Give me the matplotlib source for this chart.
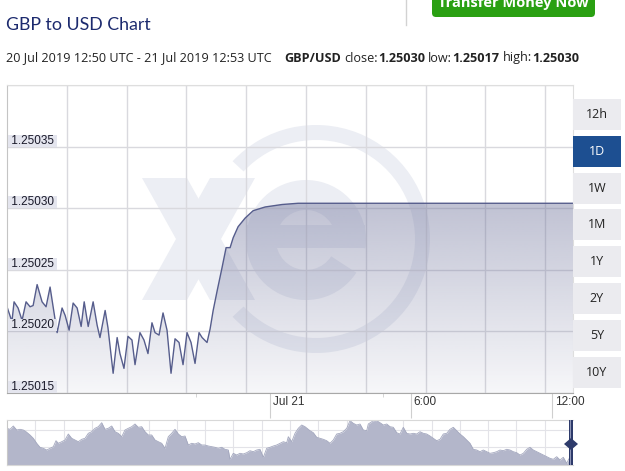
import numpy as np
import matplotlib
matplotlib.use("Agg")
import matplotlib.pyplot as plt
from matplotlib.patches import Rectangle, Wedge, Polygon, FancyBboxPatch
from matplotlib.transforms import Affine2D

# GBP/USD, timmar relativt 21 Jul 00:00 UTC
hours = [-11.17, -10.96, -10.87, -10.70, -10.53, -10.36, -10.19, -10.06, -9.89, -9.68,
         -9.51, -9.34, -9.04, -8.83, -8.70, -8.53, -8.36, -8.19, -8.02, -7.89,
         -7.72, -7.51, -7.34, -7.22, -7.00, -6.88, -6.66, -6.49, -6.37, -6.20,
         -6.03, -5.86, -5.73, -5.52, -5.35, -5.18, -5.01, -4.88, -4.71, -4.54,
         -4.37, -4.20, -4.03, -3.86, -3.69, -3.52, -3.35, -3.18, -3.01, -2.88,
         -2.67, -2.54, -2.41, -2.24, -2.03, -1.86, -1.78, -1.69, -1.56, -1.35,
         -1.05, -0.71, -0.20, 0.52, 1.20, 12.88]
rate = [1.250220, 1.250208, 1.250224, 1.250219, 1.250209, 1.250224, 1.250220, 1.250221, 1.250238, 1.250224,
        1.250220, 1.250236, 1.250199, 1.250219, 1.250213, 1.250201, 1.250223, 1.250219, 1.250204, 1.250224,
        1.250204, 1.250224, 1.250205, 1.250195, 1.250217, 1.250203, 1.250166, 1.250195, 1.250182, 1.250170,
        1.250196, 1.250193, 1.250173, 1.250199, 1.250193, 1.250182, 1.250207, 1.250199, 1.250197, 1.250215,
        1.250201, 1.250166, 1.250194, 1.250191, 1.250173, 1.250199, 1.250191, 1.250174, 1.250199, 1.250195,
        1.250191, 1.250202, 1.250217, 1.250233, 1.250252, 1.250268, 1.250268, 1.250268, 1.250276, 1.250285,
        1.250292, 1.250298, 1.250301, 1.250303, 1.250304, 1.250304]

# navigator (översikt längst ner)
nav_x = [6.7, 10, 13.3, 16.7, 20, 23.3, 26, 30, 33.3, 36.7, 40, 43.3, 46.7, 50, 53.3, 56, 58.3, 61.7,
         65, 68.3, 71.7, 75, 78.3, 81.7, 85, 88.3, 91.7, 95, 98.3, 101.7, 105, 108.3, 111.7, 115,
         118.3, 121.7, 125, 128.3, 131.7, 135, 138.3, 141.7, 145, 148.3, 151.7, 155, 158.3, 161.7,
         165, 168.3, 171.7, 175, 178.3, 181.7, 185, 188.3, 191.7, 195, 198.3, 201.7, 205, 208.3,
         211.7, 215, 218.3, 221.7, 225, 228.3, 230, 233.3, 236.7, 240, 243.3, 246.7, 250, 253.3,
         256.7, 260, 263.3, 266.7, 270, 273.3, 276.7, 280, 283.3, 286.7, 288.3, 291.7, 295, 298.3,
         301.7, 305, 310, 313.3, 316.7, 320, 323.3, 326.7, 330, 333.3, 336.7, 340, 343.3, 346.7,
         350, 353.3, 356.7, 360, 363.3, 366.7, 368.3, 373.3, 376.7, 380, 383.3, 386.7, 390, 393.3,
         396.7, 400, 403.3, 406.7, 410, 413.3, 416.7, 420, 423.3, 426.7, 430, 433.3, 436.7, 440,
         443.3, 446.7, 450, 453.3, 456.7, 460, 463.3, 466.7, 470, 473.3, 476.7, 480, 483.3, 486.7,
         490, 493.3, 496.7, 500, 503.3, 506.7, 510, 513.3, 516.7, 520, 523.3, 526.7, 530, 533.3,
         536.7, 540, 543.3, 546.7, 550, 553.3, 556.7, 560, 563.3, 566.7, 568.3, 569.3]
nav_level = [36.7, 35.7, 39, 35, 35.7, 35, 33.3, 30, 26.7, 21.7, 17.7, 16.7, 15, 16.7, 18.3, 24.3, 21.7, 23.3,
             25, 31, 26.7, 25, 23.3, 25.7, 26.7, 31.7, 33.3, 36.7, 38.3, 42.3, 35.7, 36.7, 39, 33.3,
             31.7, 28.3, 35, 36.7, 38.3, 41, 37.7, 38.3, 33.3, 30, 30, 25, 23.3, 21.7,
             16.7, 28.3, 31.7, 35.7, 31, 28.3, 29, 20, 21.7, 21, 22.3, 20, 20, 19,
             18.3, 17.7, 16.7, 17.7, 15.7, 15, 5.7, 11.7, 10, 11.7, 11, 12.3, 14.3, 13.3,
             15, 15.7, 7.7, 16.7, 17.7, 19, 20, 21.7, 23.3, 22.3, 28.3, 23.3, 31.7, 36.7,
             40, 38.3, 34.3, 32.3, 27.7, 26.7, 25.7, 24.3, 21.7, 25, 31, 31.7, 33.3, 36.7,
             44.3, 41.7, 40, 41, 35, 34.3, 41, 44.3, 44.3, 42.3, 40, 41, 38.3, 37.7,
             32.3, 31, 37.7, 31.7, 31, 31.7, 31, 33.3, 31.7, 31, 29, 26.7, 24.3, 25.7,
             31, 31.7, 35.7, 37.7, 34.3, 31, 28.3, 25, 21.7, 15.7, 15, 13.3, 15, 13.3,
             11.7, 12.3, 13.3, 15, 14.3, 15.7, 15, 13.3, 12.3, 10, 11.7, 15.7, 17.7, 15,
             13.3, 11.7, 10, 8.3, 6.7, 5.7, 8.3, 5, 7.7, 1.7, 5, 6.7]

y_ticks = [1.25015, 1.25020, 1.25025, 1.25030, 1.25035]
y_grid = [1.25015, 1.25020, 1.25025, 1.25030, 1.25035, 1.25040]
x_ticks = [0, 6, 12]
x_tick_labels = ["Jul 21", "6:00", "12:00"]
x_minor = [-3.14, 4.81]
buttons = ["12h", "1D", "1W", "1M", "1Y", "2Y", "5Y", "10Y"]
selected = "1D"

W, H = 625, 471
fig = plt.figure(figsize=(W / 100, H / 100), dpi=100)
# pixelkoordinater (y nedåt) för dekorationer
pxt = Affine2D().scale(1 / W, -1 / H).translate(0, 1) + fig.transFigure

# --- huvuddiagram ---
ax = fig.add_axes([7 / W, 1 - 393 / H, 566 / W, 308 / H])
x0, x1 = -11.17, 12.88
grid_step = 2.541

# xe-vattenstämpel
wm = '#eceef4'
ax.add_patch(Polygon([(142, 178), (187, 178), (255, 300), (210, 300)], closed=True,
                     fc=wm, ec='none', transform=pxt, zorder=0.3))
ax.add_patch(Polygon([(210, 178), (255, 178), (187, 300), (142, 300)], closed=True,
                     fc=wm, ec='none', transform=pxt, zorder=0.3))
ax.add_patch(Wedge((316, 239), 114, -137, 137, width=15, fc=wm, ec='none', transform=pxt, zorder=0.3))
ax.add_patch(Wedge((306, 240), 60, 33, 368, width=30, fc=wm, ec='none', transform=pxt, zorder=0.3))
ax.add_patch(Rectangle((247, 225), 118, 23, fc=wm, ec='none', transform=pxt, zorder=0.3))

for gy in y_grid:
    ax.axhline(gy, color='#d9d9de', lw=1, zorder=0.5)
for k in range(1, 10):
    ax.axvline(x0 + k * grid_step, color='#d9d9de', lw=1, zorder=0.5)

# gradientfyllning under linjen
grad = np.zeros((256, 1, 4))
grad[:, 0, :3] = np.array([118, 122, 160]) / 255
grad[:, 0, 3] = np.linspace(0.06, 0.46, 256)
im = ax.imshow(grad, extent=[x0, x1, y_ticks[0], max(rate)], origin='lower',
               aspect='auto', zorder=1, interpolation='bilinear')
poly = ax.fill_between(hours, rate, y_ticks[0], facecolor='none', edgecolor='none')
im.set_clip_path(poly.get_paths()[0], transform=ax.transData)

ax.plot(hours, rate, color='#565d8c', lw=1.0, zorder=2)

ax.set_xlim(x0, x1)
ax.set_ylim(1.25015, 1.25040)
ax.set_yticks([])
ax.set_xticks(x_ticks)
ax.set_xticks(x_minor, minor=True)
ax.tick_params(axis='x', which='major', length=18, color='#cfcfcf', labelbottom=False)
ax.tick_params(axis='x', which='minor', length=3, color='#cfcfcf')
for lab, xt in zip(x_tick_labels, x_ticks):
    ax.annotate(lab, xy=(xt, 0), xycoords=('data', 'axes fraction'), xytext=(2, -6.5),
                textcoords='offset points', ha='left', va='center', fontsize=8.5,
                family='Liberation Sans', color='#333333', annotation_clip=False)
for yt in y_ticks:
    ax.annotate(f' {yt:.5f} ', xy=(0, yt), xycoords=('axes fraction', 'data'), xytext=(0.7, 0),
                textcoords='offset points', ha='left', va='bottom', fontsize=8.5,
                family='Liberation Sans', color='#1a1a2a', zorder=5,
                bbox=dict(boxstyle='square,pad=0', fc='#e4e5ee', ec='none'))

ax.spines['left'].set_color('#c4c4c4')
ax.spines['top'].set_color('#dedede')
ax.spines['right'].set_color('#dedede')
ax.spines['bottom'].set_color('#a8a8a8')

# --- navigator ---
nav = fig.add_axes([7 / W, 1 - 465 / H, 566 / W, 45 / H])
for k in range(1, 20):
    nav.axvline(7 + k * 28.3, color='#e3e3e8', lw=0.8, zorder=0.5)
for gy in [18, 35]:
    nav.axhline(gy, color='#e3e3e8', lw=0.8, zorder=0.5)
nav.fill_between(nav_x, nav_level, 0, color='#b3b6ca', lw=0, zorder=1)
nav.plot(nav_x, nav_level, color='#a3a7be', lw=0.6, zorder=1.5)
nav.add_patch(Rectangle((568.5, 0), 4, 45, fc='#2e3b6b', ec='none', zorder=3))
nav.add_patch(Rectangle((570, 0), 1, 45, fc='#8d94b5', ec='none', zorder=3.5))
nav.add_patch(Polygon([(564, 21), (571, 27), (578, 21), (571, 15)], closed=True,
                      fc='#2e3b6b', ec='none', zorder=4, clip_on=False))
nav.set_xlim(7, 573)
nav.set_ylim(0, 45)
nav.set_xticks([])
nav.set_yticks([])
for s in ['top', 'bottom']:
    nav.spines[s].set_color('#d8d8d8')
nav.spines['left'].set_color('#c8c8c8')
nav.spines['right'].set_visible(False)

# --- rubriker och knappar ---
deco = fig.add_axes([0, 0, 1, 1])
deco.set_xlim(0, W)
deco.set_ylim(H, 0)
deco.axis('off')
deco.patch.set_visible(False)

deco.text(6, 25, "GBP to USD Chart", fontsize=12.8, color='#1c2a6e', va='center',
          family='Lato')

segments = [("20 Jul 2019 12:50 UTC - 21 Jul 2019 12:53 UTC", 'normal', 0),
            ("GBP/USD", 'bold', 9),
            ("close:", 'normal', 2.5),
            ("1.25030", 'bold', 0),
            ("low:", 'normal', 2.5),
            ("1.25017", 'bold', 0),
            ("high:", 'normal', 2.5),
            ("1.25030", 'bold', 0)]
t = None
for txt, wgt, gap in segments:
    if t is None:
        t = deco.text(6, 58, txt, fontsize=9.1, color='#222222', va='center',
                      family='Open Sans', fontweight=wgt)
    else:
        t = deco.annotate(txt, xy=(1, 0), xycoords=t, xytext=(gap, 0), textcoords='offset points',
                          ha='left', va='bottom', fontsize=9.1, color='#222222',
                          family='Open Sans', fontweight=wgt)

deco.plot([406, 406], [0, 25], color='#d2d2d2', lw=1)
deco.add_patch(FancyBboxPatch((432, -10), 163, 27, boxstyle='round,pad=0,rounding_size=4',
                              fc='#2aa012', ec='none'))
deco.text(513, 3, "Transfer Money Now", fontsize=10.5, color='white', fontweight='bold',
          ha='center', va='center', family='Open Sans')

for i, b in enumerate(buttons):
    top = 99 + i * 36.8
    sel = b == selected
    deco.add_patch(Rectangle((573, top), 48, 31, fc='#1d4f91' if sel else '#ebebef', ec='none'))
    deco.text(597, top + 15.5, b, fontsize=9, ha='center', va='center', family='Open Sans',
              color='white' if sel else '#222222')

fig.savefig('out.png', dpi=100)
